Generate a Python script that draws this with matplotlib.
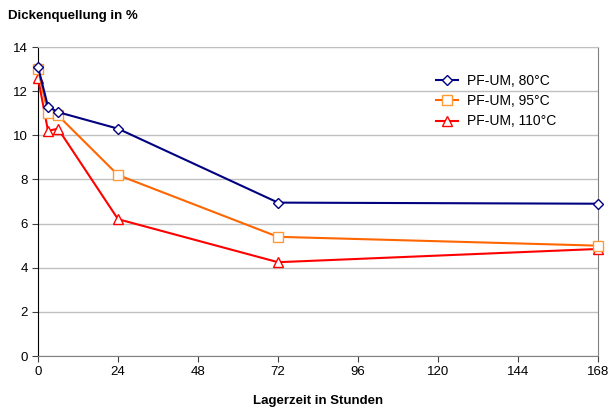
import matplotlib
matplotlib.use('Agg')
import matplotlib.pyplot as plt

plt.rcParams['font.family'] = ['Liberation Sans', 'DejaVu Sans']

# Lagerzeit in Stunden
hours = [0, 3, 6, 24, 72, 168]
# Dickenquellung in %
pf_80 = [13.1, 11.3, 11.05, 10.3, 6.95, 6.9]
pf_95 = [13.0, 11.0, 10.9, 8.2, 5.4, 5.0]
pf_110 = [12.6, 10.2, 10.3, 6.2, 4.25, 4.85]
labels = ['PF-UM, 80°C', 'PF-UM, 95°C', 'PF-UM, 110°C']
x_ticks = [0, 24, 48, 72, 96, 120, 144, 168]
y_ticks = [0, 2, 4, 6, 8, 10, 12, 14]

fig = plt.figure(figsize=(6.11, 4.16), dpi=100)
ax = fig.add_axes([0.0622, 0.1442, 0.9165, 0.7428])

ax.plot(hours, pf_80, color='#000080', marker='D', markersize=5.5, mfc='white',
        mec='#000080', mew=1, lw=1.5, label=labels[0], zorder=5, clip_on=False)
ax.plot(hours, pf_95, color='#FF6600', marker='s', markersize=7.5, mfc='white',
        mec='#FF9933', mew=1, lw=1.5, label=labels[1], zorder=4, clip_on=False)
ax.plot(hours, pf_110, color='#FF0000', marker='^', markersize=7.5, mfc='white',
        mec='#FF0000', mew=1, lw=1.5, label=labels[2], zorder=3, clip_on=False)

ax.set_xlim(0, 168)
ax.set_ylim(0, 14)
ax.set_xticks(x_ticks)
ax.set_yticks(y_ticks)
ax.grid(axis='y', color='#c0c0c0', lw=1)
ax.set_axisbelow(True)
ax.tick_params(direction='out', length=4, labelsize=9.5, color='#404040')
ax.spines['left'].set_color('black')
ax.spines['bottom'].set_color('#808080')
ax.spines['right'].set_color('#808080')
ax.spines['top'].set_color('#c0c0c0')

ax.set_xlabel('Lagerzeit in Stunden', fontsize=9.5, fontweight='bold', labelpad=12)
fig.text(0.013, 0.962, 'Dickenquellung in %', fontsize=9.5, fontweight='bold', va='center')

ax.legend(loc='upper right', bbox_to_anchor=(0.94, 0.94), frameon=False,
          fontsize=10, handlelength=1.6, handletextpad=0.6, labelspacing=0.45,
          borderaxespad=0.2)

fig.savefig('out.png', dpi=100)
